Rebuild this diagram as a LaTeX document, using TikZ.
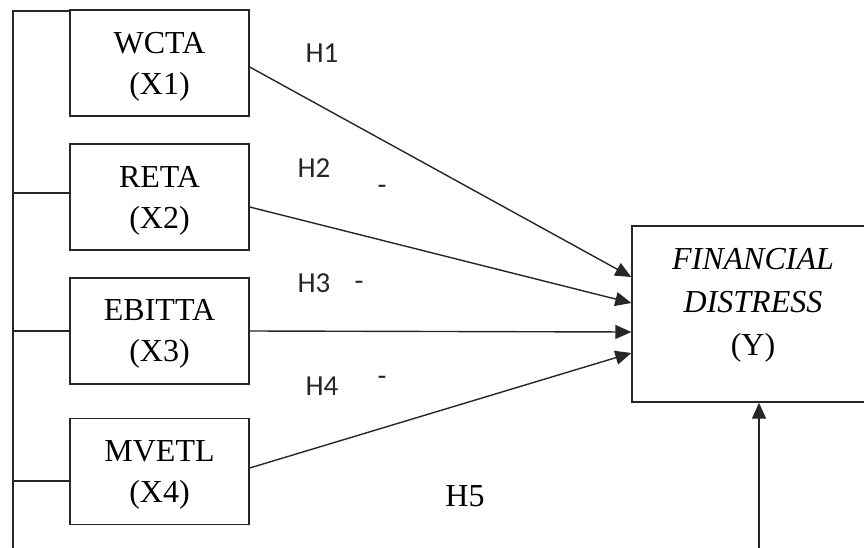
\documentclass[tikz,border=0pt]{standalone}
\usepackage{fontspec}
\setmainfont{Liberation Serif}
\newfontfamily\hfont{Carlito}
\usetikzlibrary{arrows.meta}
\begin{document}
\begin{tikzpicture}[x=1pt,y=-1pt,
  ln/.style={line width=1.4pt,draw=black!85},
  xbox/.style={ln,rectangle,minimum width=179pt,minimum height=106pt,inner sep=0pt},
  xtxt/.style={align=center,inner sep=0pt,font=\fontsize{32}{41}\selectfont},
  hlab/.style={font=\hfont\fontsize{29}{35}\selectfont,inner sep=0pt,text=black!85},
  arr/.style={ln,-{Triangle[length=16pt,width=14pt]}}]
\useasboundingbox (0,0) rectangle (864,548);
% predictor boxes
\node[xbox] (x1) at (159.5,63) {};
\node[xbox] (x2) at (159.5,197) {};
\node[xbox] (x3) at (159.5,331) {};
\node[xbox] (x4) at (159.5,471.5) {};
\node[xtxt] (t1) at (159.5,67) {WCTA\\(X1)};
\node[xtxt] (t2) at (159.5,201) {RETA\\(X2)};
\node[xtxt] (t3) at (159.5,334) {EBITTA\\(X3)};
\node[xtxt] (t4) at (159.5,475) {MVETL\\(X4)};
% dependent box (extends beyond right edge)
\node[ln,rectangle,minimum width=254pt,minimum height=176pt,inner sep=0pt] (y) at (759,314) {};
\node[align=center,font=\fontsize{32}{43}\selectfont,inner sep=0pt] (ytxt) at (753,305)
  {\textit{FINANCIAL}\\\textit{DISTRESS}\\(Y)};
% left bus
\coordinate (bt) at (13,11);
\coordinate (bb) at (13,548);
\coordinate (b2) at (13,193);
\coordinate (b3) at (13,331);
\coordinate (b4) at (13,481);
\draw[ln] (bb) -- (bt) -- (bt -| x1.west);
\draw[ln] (b2) -- (b2 -| x2.west);
\draw[ln] (b3) -- (b3 -| x3.west);
\draw[ln] (b4) -- (b4 -| x4.west);
% arrows
\draw[arr] ([yshift=-4pt]x1.east) -- ([yshift=37pt]y.west);
\draw[arr] ([yshift=-10pt]x2.east) -- ([yshift=11pt]y.west);
\draw[arr] (x3.east) -- ([yshift=-18pt]y.west);
\draw[arr] ([yshift=3.5pt]x4.east) -- ([yshift=-39pt]y.west);
\coordinate (yb) at (759,548);
\draw[arr] (yb) -- (y.south);
% labels
\node[hlab] (h1) at (322,53) {H1};
\node[hlab] (h2) at (314,168) {H2};
\node[hlab] (h3) at (314,283) {H3};
\node[hlab] (h4) at (322,386) {H4};
\node[hlab] (d2) at (382,190) {-};
\node[hlab] (d3) at (359,286) {-};
\node[hlab] (d4) at (382,381) {-};
\node[font=\fontsize{32}{38}\selectfont,inner sep=0pt] (h5) at (465,496) {H5};
\end{tikzpicture}
\end{document}
